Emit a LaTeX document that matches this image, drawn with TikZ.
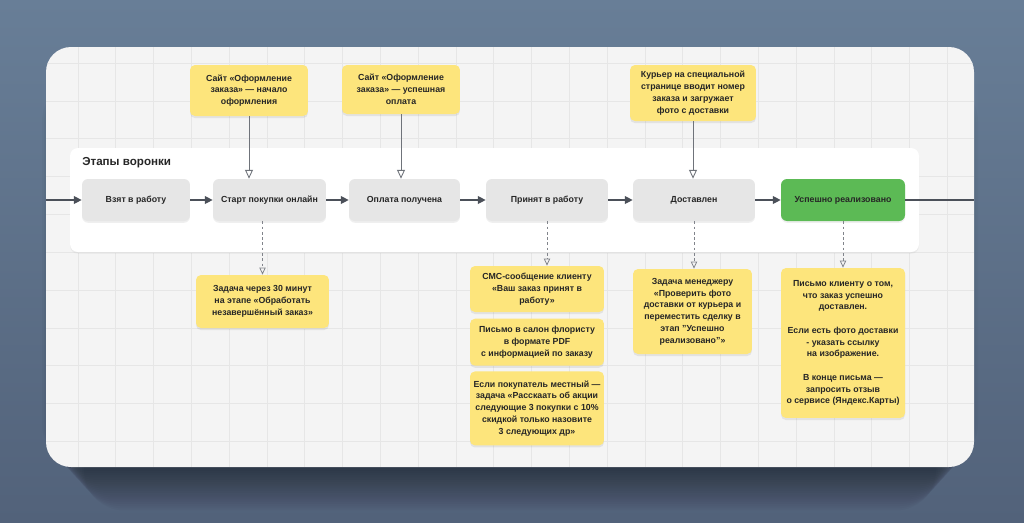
\documentclass[tikz,border=0pt]{standalone}
\usepackage{fontspec}
\setmainfont{Liberation Sans}
\usetikzlibrary{arrows.meta,positioning,shadows}

\definecolor{bgtop}{HTML}{687E97}
\definecolor{bgbot}{HTML}{52627A}
\definecolor{cardbg}{HTML}{F4F4F4}
\definecolor{gridcol}{HTML}{E6E6E6}
\definecolor{stagegray}{HTML}{E6E6E6}
\definecolor{stagegreen}{HTML}{5CBA55}
\definecolor{notecol}{HTML}{FDE57C}
\definecolor{linecol}{HTML}{4B5059}

\tikzset{
  txt/.style={font=\fontsize{5}{6.7}\selectfont\bfseries, text=black!85},
  stage/.style={txt, fill=stagegray, rounded corners=0.12cm, minimum width=#1,
    minimum height=0.84cm, align=center, inner sep=0pt,
    drop shadow={shadow xshift=0pt, shadow yshift=-1pt, opacity=0.12}},
  note/.style={txt, fill=notecol, rounded corners=0.1cm, align=center,
    inner sep=0pt, drop shadow={shadow xshift=0pt, shadow yshift=-1.2pt, opacity=0.15}},
  flow/.style={draw=linecol, line width=0.7pt, -{Triangle[length=4.5pt,width=4.5pt]}},
  feed/.style={draw=linecol!80, line width=0.5pt, -{Triangle[open,length=5pt,width=4.5pt]}},
  task/.style={draw=linecol!70, line width=0.45pt, dash pattern=on 1.5pt off 1.5pt,
    -{Triangle[open,length=4pt,width=3.6pt]}},
}

\begin{document}
\begin{tikzpicture}[x=0.02cm, y=-0.02cm]
  \useasboundingbox (0,0) rectangle (1024,522);

  % Background
  \shade[top color=bgtop, bottom color=bgbot] (0,0) rectangle (1024,522);
  \foreach \i in {1,...,22}
    \fill[black, opacity=0.022, rounded corners=0.8cm]
      (40+2*\i,80+1.2*\i) rectangle (980-2*\i,462+2.2*\i);

  % Board with grid
  \fill[cardbg, rounded corners=0.5cm] (46,47) rectangle (974,467);
  \begin{scope}
    \clip[rounded corners=0.5cm] (46,47) rectangle (974,467);
    \foreach \gx in {0,...,23}
      \draw[gridcol, line width=0.4pt] (78+37.8*\gx,47) -- (78+37.8*\gx,467);
    \foreach \gy in {0,...,10}
      \draw[gridcol, line width=0.4pt] (46,63+37.85*\gy) -- (974,63+37.85*\gy);
  \end{scope}

  % Funnel panel
  \fill[white, rounded corners=0.16cm, drop shadow={shadow xshift=0pt, shadow yshift=-1pt, opacity=0.08}]
    (70,148) rectangle (919,252);
  \node[anchor=west, inner sep=0pt, font=\fontsize{6.6}{8}\selectfont\bfseries, text=black!85] (title) at (82,163) {Этапы воронки};

  % Stages
  \node[stage=2.16cm] (taken)   at (136,200)   {Взят в работу};
  \node[stage=2.26cm] (start)   at (269.5,200) {Старт покупки онлайн};
  \node[stage=2.22cm] (paid)    at (404.5,200) {Оплата получена};
  \node[stage=2.44cm] (accept)  at (547,200)   {Принят в работу};
  \node[stage=2.44cm] (deliv)   at (694,200)   {Доставлен};
  \node[stage=2.48cm, fill=stagegreen] (done) at (843,200) {Успешно реализовано};

  \coordinate (entry) at (46,200);
  \coordinate (exit)  at (974,200);
  \draw[flow] (entry) -- (taken);
  \draw[flow] (taken) -- (start);
  \draw[flow] (start) -- (paid);
  \draw[flow] (paid) -- (accept);
  \draw[flow] (accept) -- (deliv);
  \draw[flow] (deliv) -- (done);
  \draw[linecol, line width=0.7pt] (done) -- (exit);

  % Triggers above
  \node[note, minimum width=2.36cm, minimum height=1.02cm] (siteA) at (249,90.5)
    {Сайт «Оформление\\заказа» — начало\\оформления};
  \node[note, minimum width=2.36cm, minimum height=0.98cm] (siteB) at (401,89.5)
    {Сайт «Оформление\\заказа» — успешная\\оплата};
  \node[note, minimum width=2.52cm, minimum height=1.12cm] (courier) at (693,93)
    {Курьер на специальной\\странице вводит номер\\заказа и загружает\\фото с доставки};

  \draw[feed] (siteA.south) -- (siteA.south |- start.north);
  \draw[feed] (siteB.south) -- (siteB.south |- paid.north);
  \draw[feed] (courier.south) -- (courier.south |- deliv.north);

  % Tasks below
  \node[note, minimum width=2.66cm, minimum height=1.06cm] (remind) at (262.5,301.5)
    {Задача через 30 минут\\на этапе «Обработать\\незавершённый заказ»};
  \node[note, minimum width=2.68cm, minimum height=0.92cm] (sms) at (537,289)
    {СМС-сообщение клиенту\\«Ваш заказ принят в\\работу»};
  \node[note, minimum width=2.68cm, minimum height=0.94cm, below=0.12cm of sms] (florist)
    {Письмо в салон флористу\\в формате PDF\\с информацией по заказу};
  \node[note, minimum width=2.68cm, minimum height=1.48cm, below=0.1cm of florist] (local)
    {Если покупатель местный —\\задача «Расскаать об акции\\следующие 3 покупки с 10\%\\скидкой только назовите\\3 следующих др»};
  \node[note, minimum width=2.38cm, minimum height=1.70cm] (manager) at (692.5,311.5)
    {Задача менеджеру\\«Проверить фото\\доставки от курьера и\\переместить сделку в\\этап "Успешно\\реализовано"»};
  \node[note, minimum width=2.48cm, minimum height=3.0cm] (letter) at (843,343)
    {Письмо клиенту о том,\\что заказ успешно\\доставлен.\\[6.7pt]Если есть фото доставки\\- указать ссылку\\на изображение.\\[6.7pt]В конце письма —\\запросить отзыв\\о сервисе (Яндекс.Карты)};

  \draw[task] (remind.north |- start.south) -- (remind.north);
  \draw[task] (accept.south) -- (accept.south |- sms.north);
  \draw[task] (deliv.south) -- (deliv.south |- manager.north);
  \draw[task] (done.south) -- (done.south |- letter.north);
\end{tikzpicture}
\end{document}
